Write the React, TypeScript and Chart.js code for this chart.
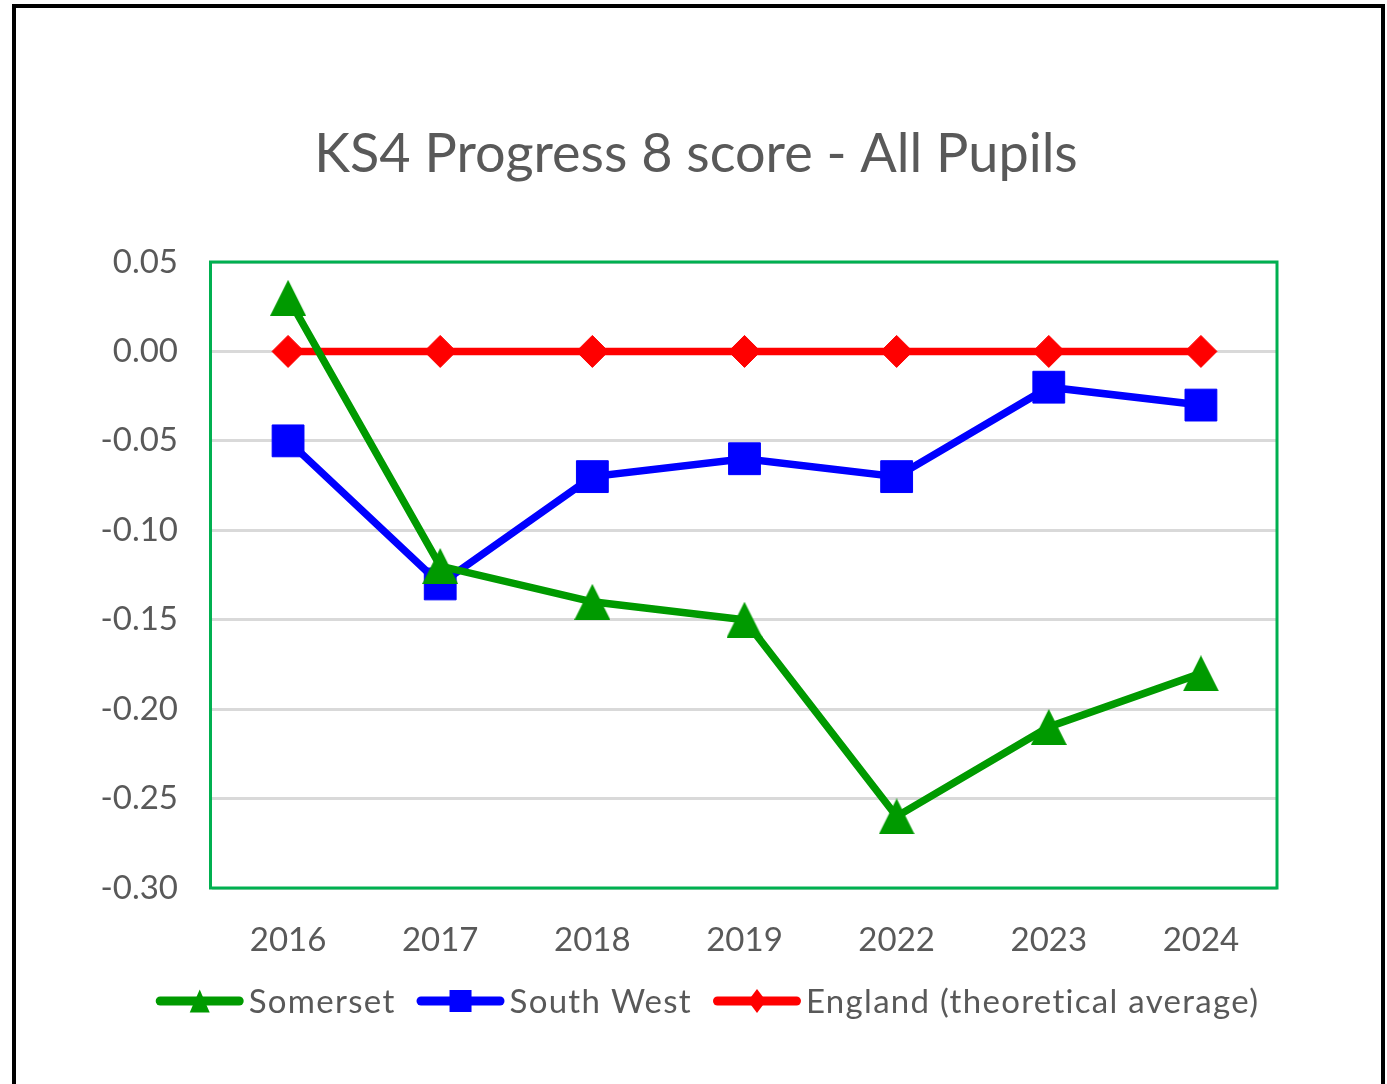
import React, { useEffect, useRef } from 'react';
import { Chart, registerables } from 'chart.js';

Chart.register(...registerables);

const categories = ['2016', '2017', '2018', '2019', '2022', '2023', '2024'];
const somerset = [0.03, -0.12, -0.14, -0.15, -0.26, -0.21, -0.18];
const southWest = [-0.05, -0.13, -0.07, -0.06, -0.07, -0.02, -0.03];
const england = [0, 0, 0, 0, 0, 0, 0];
const yTicks = [0.05, 0, -0.05, -0.1, -0.15, -0.2, -0.25, -0.3];
const seriesNames = ['Somerset', 'South West', 'England (theoretical average)'];
const titleText = 'KS4 Progress 8 score - All Pupils';

const GREEN = '#009A00';
const BLUE = '#0000FF';
const RED = '#FF0000';
const TEXT = '#595959';
const FONT = 'Lato';

const W = 1387;
const H = 1084;

function drawTriangle(ctx: CanvasRenderingContext2D, cx: number, cy: number, w: number, h: number, color: string) {
  ctx.beginPath();
  ctx.moveTo(cx, cy - h / 2);
  ctx.lineTo(cx + w / 2, cy + h / 2);
  ctx.lineTo(cx - w / 2, cy + h / 2);
  ctx.closePath();
  ctx.fillStyle = color;
  ctx.fill();
}

function makeTriangle(w: number, h: number, color: string) {
  const c = document.createElement('canvas');
  c.width = w;
  c.height = h;
  const ctx = c.getContext('2d')!;
  drawTriangle(ctx, w / 2, h / 2, w, h, color);
  return c;
}

const overlayPlugin = {
  id: 'overlay',
  beforeDatasetsDraw(chart: any) {
    const { ctx, chartArea } = chart;
    ctx.save();
    ctx.strokeStyle = '#00B050';
    ctx.lineWidth = 3;
    ctx.strokeRect(chartArea.left - 1.5, chartArea.top, chartArea.right - chartArea.left + 1.5, chartArea.bottom - chartArea.top);
    ctx.restore();
  },
  afterDraw(chart: any) {
    const { ctx } = chart;
    ctx.save();
    // title
    ctx.fillStyle = TEXT;
    ctx.font = `54px ${FONT}`;
    ctx.textAlign = 'center';
    ctx.textBaseline = 'alphabetic';
    ctx.fillText(titleText, 696, 172);

    // legend
    const fontSize = 33;
    ctx.font = `${fontSize}px ${FONT}`;
    try {
      (ctx as any).letterSpacing = '1.3px';
    } catch (e) {
      /* ignore */
    }
    const lineLen = 88;
    const gapText = 5;
    const itemGap = 21;
    const colors = [GREEN, BLUE, RED];
    const widths = seriesNames.map((n) => lineLen + gapText + ctx.measureText(n).width);
    const total = widths.reduce((a, b) => a + b, 0) + itemGap * (widths.length - 1);
    let x = 707.5 - total / 2;
    const ly = 1001;
    seriesNames.forEach((name, i) => {
      const col = colors[i];
      ctx.strokeStyle = col;
      ctx.lineWidth = 9;
      ctx.lineCap = 'round';
      ctx.beginPath();
      ctx.moveTo(x + 4.5, ly);
      ctx.lineTo(x + lineLen - 4.5, ly);
      ctx.stroke();
      const mx = x + lineLen / 2;
      ctx.fillStyle = col;
      if (i === 0) {
        drawTriangle(ctx, mx, ly, 20, 23, col);
      } else if (i === 1) {
        ctx.fillRect(mx - 11, ly - 11, 22, 22);
      } else {
        ctx.beginPath();
        ctx.moveTo(mx, ly - 12);
        ctx.lineTo(mx + 9, ly);
        ctx.lineTo(mx, ly + 12);
        ctx.lineTo(mx - 9, ly);
        ctx.closePath();
        ctx.fill();
      }
      ctx.fillStyle = TEXT;
      ctx.textAlign = 'left';
      ctx.textBaseline = 'alphabetic';
      ctx.fillText(name, x + lineLen + gapText, 1013);
      x += widths[i] + itemGap;
    });
    ctx.restore();
  },
};

export default function App() {
  const ref = useRef<HTMLCanvasElement | null>(null);

  useEffect(() => {
    if (!ref.current) return;
    const tri = makeTriangle(36, 36, GREEN);
    const chart = new Chart(ref.current, {
      type: 'line',
      data: {
        labels: categories,
        datasets: [
          {
            label: seriesNames[0],
            data: somerset,
            borderColor: GREEN,
            backgroundColor: GREEN,
            borderWidth: 7.5,
            pointStyle: tri as any,
            pointRadius: 18,
            tension: 0,
            order: 1,
          },
          {
            label: seriesNames[1],
            data: southWest,
            borderColor: BLUE,
            backgroundColor: BLUE,
            borderWidth: 7.5,
            pointStyle: 'rect',
            pointRadius: 22.5,
            pointBorderWidth: 1,
            pointBorderColor: BLUE,
            tension: 0,
            order: 2,
          },
          {
            label: seriesNames[2],
            data: england,
            borderColor: RED,
            backgroundColor: RED,
            borderWidth: 7.5,
            pointStyle: 'rectRot',
            pointRadius: 16,
            pointBorderWidth: 1,
            pointBorderColor: RED,
            tension: 0,
            order: 3,
          },
        ],
      },
      options: {
        responsive: false,
        animation: false,
        devicePixelRatio: 1,
        layout: { padding: { left: 0, top: 262, right: 110, bottom: 0 } },
        plugins: {
          legend: { display: false },
          title: { display: false },
          tooltip: { enabled: false },
        },
        scales: {
          x: {
            type: 'category',
            offset: true,
            grid: { display: false, drawTicks: false },
            border: { display: false },
            ticks: {
              color: TEXT,
              font: { family: FONT, size: 33 },
              padding: 33,
              maxRotation: 0,
            },
            afterFit: (axis: any) => {
              axis.height = H - 888;
            },
          },
          y: {
            min: -0.3,
            max: 0.05,
            grid: { color: '#D9D9D9', lineWidth: 3, drawTicks: false },
            border: { display: false },
            afterBuildTicks: (axis: any) => {
              axis.ticks = yTicks.map((v) => ({ value: v }));
            },
            ticks: {
              color: TEXT,
              font: { family: FONT, size: 33 },
              padding: 34,
              callback: (v: any) => Number(v).toFixed(2),
            },
            afterFit: (axis: any) => {
              axis.width = 212;
            },
          },
        },
      },
      plugins: [overlayPlugin],
    });
    return () => chart.destroy();
  }, []);

  return (
    <div style={{ position: 'absolute', left: 0, top: 0, width: W, height: H, overflow: 'hidden', background: '#fff' }}>
      <div
        style={{
          position: 'absolute',
          left: 12,
          top: 4,
          width: 1373,
          height: 1200,
          boxSizing: 'border-box',
          border: '4px solid #000',
        }}
      />
      <canvas ref={ref} width={W} height={H} style={{ position: 'absolute', left: 0, top: 0 }} />
    </div>
  );
}
